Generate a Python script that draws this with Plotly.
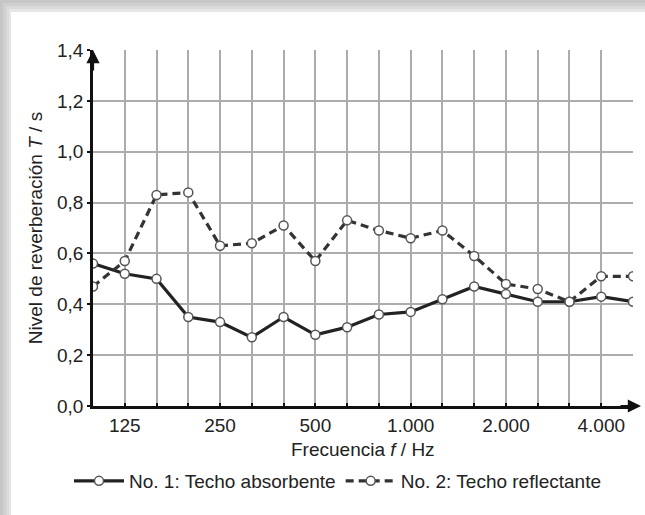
import plotly.graph_objects as go

freqs = ["100", "125", "160", "200", "250", "315", "400", "500", "630", "800",
         "1000", "1250", "1600", "2000", "2500", "3150", "4000", "5000"]
tick_labels = ["", "125", "", "", "250", "", "", "500", "", "", "1.000", "", "",
               "2.000", "", "", "4.000", ""]
t_absorbente = [0.56, 0.52, 0.50, 0.35, 0.33, 0.27, 0.35, 0.28, 0.31, 0.36,
                0.37, 0.42, 0.47, 0.44, 0.41, 0.41, 0.43, 0.41]
t_reflectante = [0.47, 0.57, 0.83, 0.84, 0.63, 0.64, 0.71, 0.57, 0.73, 0.69,
                 0.66, 0.69, 0.59, 0.48, 0.46, 0.41, 0.51, 0.51]
y_ticks = [0, 0.2, 0.4, 0.6, 0.8, 1.0, 1.2, 1.4]
y_labels = ["0,0", "0,2", "0,4", "0,6", "0,8", "1,0", "1,2", "1,4"]

FONT = "Liberation Sans, Arial, sans-serif"
FS = 19
fig = go.Figure()
fig.add_trace(go.Scatter(
    x=freqs, y=t_absorbente, mode="lines+markers",
    name="No. 1: Techo absorbente",
    line=dict(color="#222222", width=3.2),
    marker=dict(symbol="circle", size=9, color="white",
                line=dict(color="#555555", width=1.5)),
))
fig.add_trace(go.Scatter(
    x=freqs, y=t_reflectante, mode="lines+markers",
    name="No. 2: Techo reflectante",
    line=dict(color="#333333", width=3.2, dash="8px,5px"),
    marker=dict(symbol="circle", size=9, color="white",
                line=dict(color="#555555", width=1.5)),
))

L, R, T, B = 93, 12, 50, 109
W, H = 645, 515
pw, ph = W - L - R, H - T - B

def px(x):
    return (x - L) / pw

def py(y):
    return (H - B - y) / ph

shapes = []
for off, col in [(0, "#c6c6c6"), (3, "#d0d0d0"), (6, "#dadada"), (9, "#e6e6e6")]:
    shapes.append(dict(type="rect", xref="paper", yref="paper",
                       x0=px(off - 20 if off == 0 else off), x1=px(W + 10),
                       y0=py(H + 10), y1=py(off - 20 if off == 0 else off),
                       fillcolor=col, line_width=0, layer="below"))
shapes.append(dict(type="rect", xref="paper", yref="paper", x0=px(11), x1=px(W + 10),
                   y0=py(H + 10), y1=py(12), fillcolor="white", line_width=0, layer="below"))

fig.update_layout(
    width=W, height=H,
    margin=dict(l=L, r=R, t=T, b=B, pad=0, autoexpand=False),
    paper_bgcolor="#c6c6c6", plot_bgcolor="white",
    font=dict(family=FONT, size=FS, color="#222222"),
    shapes=shapes,
    xaxis=dict(
        type="category", categoryorder="array", categoryarray=freqs,
        range=[0, 17], tickvals=freqs, ticktext=tick_labels,
        showgrid=True, gridcolor="#acacac", gridwidth=1.5,
        showline=True, linecolor="#111111", linewidth=2.5,
        ticks="inside", ticklen=3, tickwidth=2, tickcolor="#111111",
        tickfont=dict(size=FS, color="#222222"), ticklabelstandoff=0,
        zeroline=False,
    ),
    yaxis=dict(
        range=[0, 1.4], tickvals=y_ticks, ticktext=y_labels,
        showgrid=True, gridcolor="#acacac", gridwidth=1.5,
        showline=True, linecolor="#111111", linewidth=2.5,
        ticks="outside", ticklen=3, tickwidth=2, tickcolor="#111111",
        tickfont=dict(size=FS, color="#222222"),
        title=dict(text="Nivel de reverberación <i>T</i> / s", font=dict(size=FS), standoff=10),
        zeroline=False,
    ),
    legend=dict(orientation="h", xref="container", x=338 / W, xanchor="center",
                yref="container", y=(H - 481) / H, yanchor="middle",
                font=dict(size=FS), itemwidth=50, bgcolor="rgba(0,0,0,0)"),
    showlegend=True,
)

fig.add_annotation(text="Frecuencia <i>f</i> / Hz", xref="paper", yref="paper",
                   x=0.5, y=py(449), xanchor="center", yanchor="middle",
                   showarrow=False, font=dict(size=FS, color="#222222"))
fig.add_annotation(x=0, y=1.4, xref="x", yref="y", ax=0, ay=22,
                   showarrow=True, arrowhead=2, arrowsize=1.2, arrowwidth=2.2,
                   arrowcolor="#111111", text="")
fig.add_annotation(x=px(641), y=0, xref="paper", yref="paper", ax=-22, ay=0,
                   showarrow=True, arrowhead=2, arrowsize=1.2, arrowwidth=2.2,
                   arrowcolor="#111111", text="")

fig.write_html("out.html")
